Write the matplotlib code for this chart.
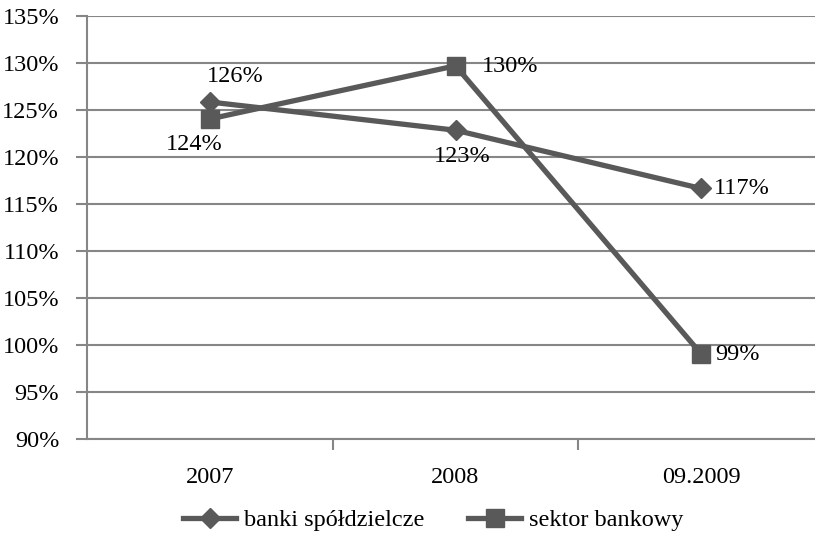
import matplotlib
matplotlib.use('Agg')
import matplotlib.pyplot as plt
from matplotlib.ticker import FuncFormatter

categories = ['2007', '2008', '09.2009']
banki = [125.85, 122.85, 116.65]
sektor = [124.05, 129.7, 99.05]
banki_labels = ['126%', '123%', '117%']
sektor_labels = ['124%', '130%', '99%']

plt.rcParams['font.family'] = ['Liberation Serif', 'DejaVu Serif']

fig = plt.figure(figsize=(8.15, 5.33), dpi=100)
ax = fig.add_axes([87 / 815, 1 - 439 / 533, (824 - 87) / 815, (439 - 16) / 533])

grey = '#595959'
x = list(range(len(categories)))
ax.plot(x, banki, color=grey, lw=3.8, marker='D', ms=10, label='banki spółdzielcze')
ax.plot(x, sektor, color=grey, lw=3.8, marker='s', ms=13.5, label='sektor bankowy')

offsets_b = [(25, 26), (7, -26), (41, 0)]
offsets_s = [(-16, -26), (55, -1), (36, -1)]
for i in x:
    ax.annotate(banki_labels[i], (i, banki[i]), xytext=offsets_b[i], textcoords='offset pixels',
                ha='center', va='center', fontsize=17.5)
    ax.annotate(sektor_labels[i], (i, sektor[i]), xytext=offsets_s[i], textcoords='offset pixels',
                ha='center', va='center', fontsize=17.5)

ax.set_xlim(-0.5, 2.5)
ax.set_ylim(90, 135)
ax.set_yticks(range(90, 136, 5))
ax.yaxis.set_major_formatter(FuncFormatter(lambda v, p: '%d%%' % v))
ax.set_xticks([0.5, 1.5], minor=False)
ax.set_xticklabels([])
ax.set_xticks(x, minor=True)
ax.set_xticklabels(categories, minor=True)
ax.tick_params(axis='x', which='major', length=8, color='#868686', width=1.5, direction='out')
ax.tick_params(axis='x', which='minor', length=0, pad=20, labelsize=17.5)
ax.tick_params(axis='y', length=8, color='#868686', width=1.5, labelsize=17.5, pad=12)
ax.grid(axis='y', color='#868686', lw=1.5)
ax.set_axisbelow(True)
for s in ['top', 'right']:
    ax.spines[s].set_visible(False)
for s in ['left', 'bottom']:
    ax.spines[s].set_color('#868686')
    ax.spines[s].set_linewidth(1.5)

fig.legend(loc='center', bbox_to_anchor=(433 / 815, 1 - 520 / 533), ncol=2, frameon=False,
           fontsize=17.5, handlelength=2.2, handletextpad=0.3, columnspacing=1.8)

fig.savefig('out.png', dpi=100)
